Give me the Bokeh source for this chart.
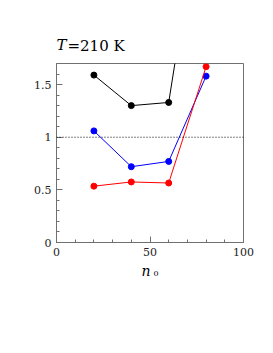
from bokeh.plotting import figure
from bokeh.models import Range1d, FixedTicker, Span, Title
from bokeh.embed import file_html
from bokeh.resources import INLINE

n0 = [20, 40, 60, 80]
black_vals = [1.59, 1.30, 1.33, 3.57]
blue_vals = [1.06, 0.72, 0.77, 1.58]
red_vals = [0.535, 0.575, 0.565, 1.67]
y_ticks = [0, 0.5, 1, 1.5]
y_labels = {0: "0", 0.5: "0.5", 1: "1", 1.5: "1.5"}
x_ticks = [0, 50, 100]

p = figure(width=265, height=310, output_backend="svg", toolbar_location=None,
           x_range=Range1d(0, 100), y_range=Range1d(0, 1.7))
p.frame_width = 187
p.frame_height = 179
p.min_border_left = 56
p.min_border_right = 22
p.min_border_top = 63
p.min_border_bottom = 68
p.background_fill_color = "white"
p.border_fill_color = "white"
p.outline_line_color = "#707070"
p.outline_line_width = 1
p.grid.visible = False

FONT = "DejaVu Serif"
for ax in (p.xaxis[0], p.yaxis[0]):
    ax.axis_line_color = "#707070"
    ax.major_tick_line_color = "#707070"
    ax.minor_tick_line_color = "#707070"
    ax.major_tick_in = 6
    ax.major_tick_out = 0
    ax.minor_tick_in = 3
    ax.minor_tick_out = 0
    ax.major_label_text_font = FONT
    ax.major_label_text_font_size = "11px"
    ax.major_label_text_color = "#222222"
    ax.major_label_standoff = 5

p.xaxis.ticker = FixedTicker(ticks=x_ticks, minor_ticks=list(range(0, 101, 10)))
p.yaxis.ticker = FixedTicker(ticks=y_ticks, minor_ticks=[i / 10 for i in range(0, 18)])
p.yaxis.major_label_overrides = y_labels

p.add_layout(Span(location=1, dimension="width", line_color="black",
                  line_dash="1 2", line_width=1))

for vals, col in ((black_vals, "black"), (blue_vals, "#0000ff"), (red_vals, "#ff0000")):
    p.line(n0, vals, line_color=col, line_width=1)
    p.scatter(n0, vals, size=6, fill_color=col, line_color=col)

# title row: "=210 K" upright, then italic "T" pulled down onto the same row
p.add_layout(Title(text="=210 K", text_font=FONT, text_font_size="15px",
                   text_font_style="normal", text_color="black", align="left",
                   offset=11, standoff=18), "above")
p.add_layout(Title(text="T", text_font=FONT, text_font_size="15px",
                   text_font_style="italic", text_color="black", align="left",
                   offset=0, standoff=-56), "above")

# x label: italic n with subscript 0
p.add_layout(Title(text="n", text_font=FONT, text_font_size="14px",
                   text_font_style="italic", text_color="black", align="left",
                   offset=85, standoff=4), "below")
p.add_layout(Title(text="0", text_font=FONT, text_font_size="8px",
                   text_font_style="normal", text_color="black", align="left",
                   vertical_align="top", offset=97, standoff=-20), "below")

open("out.html", "w").write(file_html(p, INLINE))
